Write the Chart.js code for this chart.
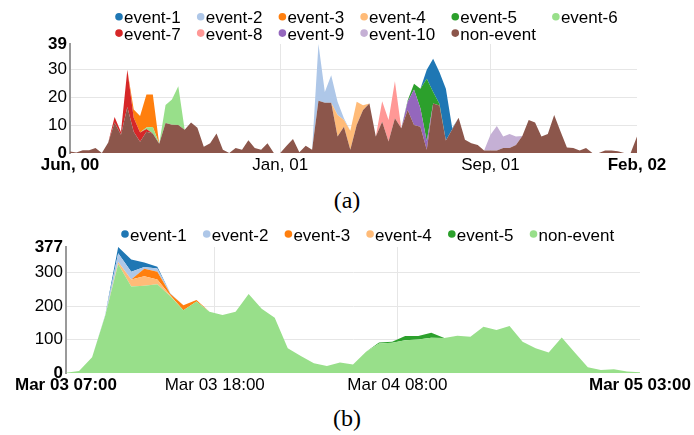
<!DOCTYPE html>
<html><head><meta charset="utf-8">
<script src="https://cdn.jsdelivr.net/npm/chart.js@4/dist/chart.umd.min.js"></script>
<style>
html,body{margin:0;padding:0;background:#fff;}
#wrap{position:relative;width:694px;height:435px;overflow:hidden;}
canvas{position:absolute;left:0;}
.cap{position:absolute;left:0;width:694px;text-align:center;font:24px 'Liberation Serif',serif;line-height:28px;color:#000;}
</style></head><body>
<div id="wrap">
<canvas id="c1" width="694" height="185" style="top:0"></canvas>
<div class="cap" style="top:186px">(a)</div>
<canvas id="c2" width="694" height="185" style="top:215px"></canvas>
<div class="cap" style="top:404px">(b)</div>
</div>
<script>
// ---------- chart (a) ----------
const topTickPos = [0, 33, 66, 89];
const topTickLabels = ['Jun, 00', 'Jan, 01', 'Sep, 01', 'Feb, 02'];
const topYTicks = [0, 10, 20, 30, 39];
const topNonEvent = [0.5,0.2,1,1,1.8,0,3.8,10.9,6.5,16.5, 7.6,4,7.6,7,3.3,10.7,10.1,10,8.3,10.9,
  9,2.2,3.5,7,1.2,0,1.8,1.2,4.6,1.8, 1.2,3.5,0,0,2.6,5,0.3,2.6,1.2,18.7,
  18,18,5.9,9.4,1.2,10,15.4,17.7,5.9,11.2, 4.1,12.4,8.9,15.4,10,9.4,1.2,17.7,17,4.5,
  8.5,12.6,4.7,3.5,2.9,0.9,0.9,0.9,1.8,1.8, 2.9,6.1,11.8,10.9,5.9,6.8,13.6,7.7,2,1.8,
  0.9,1.8,0,0,0.9,0.9,0.6,0,0,5.9];
const topEvent1 = [0,3.2,11.9,11.4,18.5,0.4,0];      const topEvent1Start = 55;
const topEvent2 = [0,20.3,3.8,9.8,4.7,0.6,0];        const topEvent2Start = 38;
const topEvent3 = [0,3,5.9,11.8,11.6,0];             const topEvent3Start = 9;
const topEvent4 = [0,7.7,2.4,6.8,8.3,1.7,0];         const topEvent4Start = 41;
const topEvent5 = [0,0.5,2.1,7,22.4,4.1,0.5,0];      const topEvent5Start = 52;
const topEvent6 = [0,0.5,2.3,0,6.5,9,13.9,0];        const topEvent6Start = 11;
const topEvent7 = [0,2,1,13.3,5,3.3,1,0];            const topEvent7Start = 6;
const topEvent8 = [0,7.3,7.7,13.3,0];                const topEvent8Start = 48;
const topEvent9 = [0,2.9,12.7,6.6,3,0];              const topEvent9Start = 52;
const topEvent10 = [0,5.6,8.8,4.1,5,3,0];            const topEvent10Start = 65;

// ---------- chart (b) ----------
const botTickPos = [0, 11.4, 25.4, 44];
const botTickLabels = ['Mar 03 07:00', 'Mar 03 18:00', 'Mar 04 08:00', 'Mar 05 03:00'];
const botYTicks = [0, 100, 200, 300, 377];
const botNonEvent = [2,7,48,171,326,259,261,266,230,188, 214,184,174,184,237,193,166,75,52,30,
  22,32,26,64,89,91,99,101,106,105, 112,109,139,129,141,94,75,62,107,62, 18,10,12,5,3];
const botEvent1 = [0,19,37,14,5,0];          const botEvent1Start = 3;
const botEvent2 = [0,3,26,23,5,10,2,0];      const botEvent2Start = 2;
const botEvent3 = [0,22,23,5,15,5,0];        const botEvent3Start = 5;
const botEvent4 = [0,6,21,29,14,2,0];        const botEvent4Start = 3;
const botEvent5 = [0,3,3,12,10,15,0];        const botEvent5Start = 23;

const FONT = '"Liberation Sans", Arial, sans-serif';
Chart.defaults.color = '#000';
Chart.defaults.font.family = FONT;

function full(n, vals, start) {
  const out = [];
  for (let i = 0; i < n; i++) {
    const k = i - (start || 0);
    out.push({x: i, y: (k >= 0 && k < vals.length) ? vals[k] : 0});
  }
  return out;
}

const colLegend = {
  id: 'colLegend',
  afterDraw(chart, args, o) {
    const ctx = chart.ctx;
    ctx.save();
    ctx.font = '17px ' + FONT;
    const items = chart.data.datasets.slice().reverse();
    const n = items.length, cols = o.cols, rows = Math.ceil(n / cols);
    let x = o.x;
    for (let c = 0; c < cols; c++) {
      let w = 0;
      for (let r = 0; r < rows; r++) {
        const k = r * cols + c;
        if (k >= n) continue;
        w = Math.max(w, ctx.measureText(items[k].label).width);
        const y = o.y + r * o.rowH;
        ctx.fillStyle = items[k].backgroundColor;
        ctx.beginPath(); ctx.arc(x, y - 6.5, 3.8, 0, Math.PI * 2); ctx.fill();
        ctx.fillStyle = '#000'; ctx.textAlign = 'left'; ctx.textBaseline = 'alphabetic';
        ctx.fillText(items[k].label, x + 5, y);
      }
      x += w + o.gap;
    }
    ctx.restore();
  }
};

function makeChart(id, n, series, cfg) {
  const datasets = series.map((s, i) => ({
    label: s.label, data: full(n, s.vals, s.start), backgroundColor: s.color,
    borderWidth: 0, pointRadius: 0, tension: 0, fill: i === 0 ? 'origin' : '-1'
  }));
  const yMax = cfg.yTicks[cfg.yTicks.length - 1];
  const lastX = cfg.xTicks.length - 1;
  return new Chart(document.getElementById(id), {
    type: 'line',
    data: {datasets},
    plugins: [colLegend],
    options: {
      responsive: false, animation: false, devicePixelRatio: 1,
      layout: {padding: cfg.padding},
      plugins: {legend: {display: false}, tooltip: {enabled: false},
        colLegend: cfg.legend},
      scales: {
        x: {
          type: 'linear', min: 0, max: n - 1,
          afterBuildTicks: s => { s.ticks = cfg.xTicks.map(v => ({value: v})); },
          afterFit: s => { s.height = cfg.xHeight; },
          ticks: {autoSkip: false, maxRotation: 0, padding: 2, color: '#000',
            callback: (v, i) => cfg.xLabels[i],
            font: c => ({size: 17, family: FONT, weight: (c.index === 0 || c.index === lastX) ? 'bold' : 'normal'})},
          grid: {drawTicks: false, lineWidth: 1,
            color: c => (c.index === 0 || c.index === lastX) ? 'rgba(0,0,0,0)' : '#e6e6e6'},
          border: {display: false}
        },
        y: {
          stacked: true, min: 0, max: yMax,
          afterBuildTicks: s => { s.ticks = cfg.yTicks.map(v => ({value: v})); },
          afterFit: s => { s.width = cfg.yWidth; },
          ticks: {padding: 3, color: '#000',
            font: c => ({size: 17, family: FONT, weight: (c.tick && (c.tick.value === 0 || c.tick.value === yMax)) ? 'bold' : 'normal'})},
          grid: {drawTicks: false, lineWidth: 1,
            color: c => (c.tick && (c.tick.value === 0 || c.tick.value === yMax)) ? 'rgba(0,0,0,0)' : '#e6e6e6'},
          border: {display: true, color: '#9a9a9a', width: 2}
        }
      }
    }
  });
}

makeChart('c1', topNonEvent.length, [
  {label: 'non-event', vals: topNonEvent, start: 0, color: '#8c564b'},
  {label: 'event-10', vals: topEvent10, start: topEvent10Start, color: '#c5b0d5'},
  {label: 'event-9', vals: topEvent9, start: topEvent9Start, color: '#9467bd'},
  {label: 'event-8', vals: topEvent8, start: topEvent8Start, color: '#ff9896'},
  {label: 'event-7', vals: topEvent7, start: topEvent7Start, color: '#d62728'},
  {label: 'event-6', vals: topEvent6, start: topEvent6Start, color: '#98df8a'},
  {label: 'event-5', vals: topEvent5, start: topEvent5Start, color: '#2ca02c'},
  {label: 'event-4', vals: topEvent4, start: topEvent4Start, color: '#ffbb78'},
  {label: 'event-3', vals: topEvent3, start: topEvent3Start, color: '#ff7f0e'},
  {label: 'event-2', vals: topEvent2, start: topEvent2Start, color: '#aec7e8'},
  {label: 'event-1', vals: topEvent1, start: topEvent1Start, color: '#1f77b4'}
], {
  xTicks: topTickPos, xLabels: topTickLabels, yTicks: topYTicks,
  padding: {left: 0, right: 57, top: 44, bottom: 4}, yWidth: 70, xHeight: 28,
  legend: {x: 119, y: 23.3, rowH: 16.3, cols: 6, gap: 25}
});

makeChart('c2', botNonEvent.length, [
  {label: 'non-event', vals: botNonEvent, start: 0, color: '#98df8a'},
  {label: 'event-5', vals: botEvent5, start: botEvent5Start, color: '#2ca02c'},
  {label: 'event-4', vals: botEvent4, start: botEvent4Start, color: '#ffbb78'},
  {label: 'event-3', vals: botEvent3, start: botEvent3Start, color: '#ff7f0e'},
  {label: 'event-2', vals: botEvent2, start: botEvent2Start, color: '#aec7e8'},
  {label: 'event-1', vals: botEvent1, start: botEvent1Start, color: '#1f77b4'}
], {
  xTicks: botTickPos, xLabels: botTickLabels, yTicks: botYTicks,
  padding: {left: 0, right: 54, top: 32, bottom: 2.7}, yWidth: 66, xHeight: 24,
  legend: {x: 125, y: 25.5, rowH: 16.3, cols: 6, gap: 25}
});
</script>
</body></html>
